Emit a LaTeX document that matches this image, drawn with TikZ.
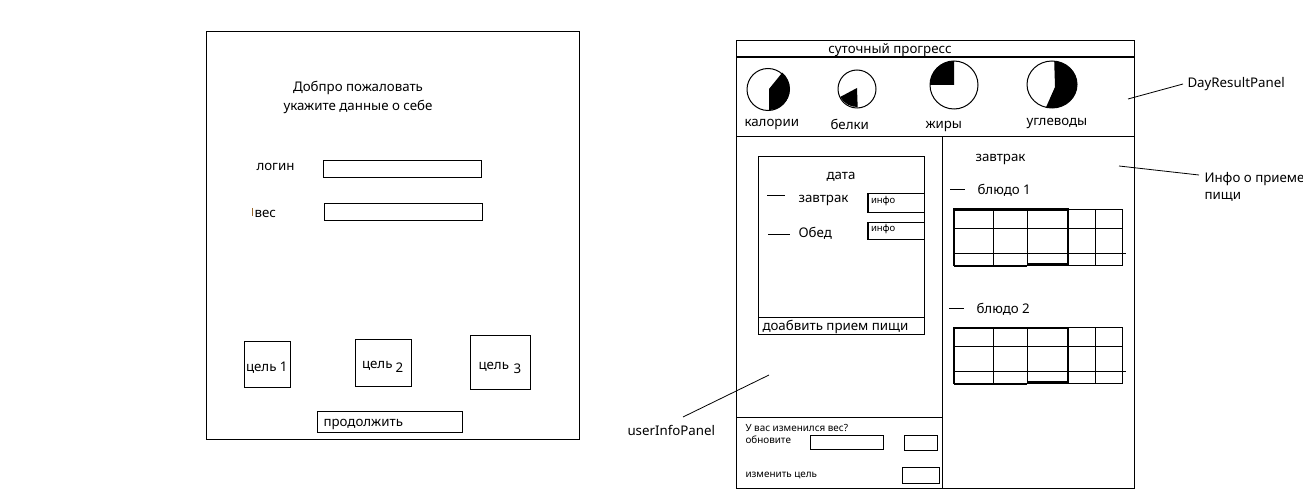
\documentclass[tikz,border=0pt]{standalone}
\usepackage{fontspec}
\setmainfont{Noto Sans}
\definecolor{cursorcol}{RGB}{150,100,40}
\begin{document}
\begin{tikzpicture}[x=1pt,y=-1pt,line width=1pt,
  lbl/.style={anchor=base west,inner sep=0pt,font=\fontsize{13.3}{15}\selectfont},
  ctr/.style={anchor=base,inner sep=0pt,font=\fontsize{13.3}{15}\selectfont},
  sml/.style={anchor=base west,inner sep=0pt,font=\fontsize{9.9}{11}\selectfont},
  tiny/.style={anchor=base west,inner sep=0pt,font=\fontsize{9.5}{10}\selectfont},
  thick line/.style={line width=2pt},
  lead/.style={line width=0.8pt}]
\useasboundingbox (0,0) rectangle (1303,497);
% ================= left screen =================
\draw (206,32) rectangle (579,439);
\node[ctr] (w1) at (358,91.5) {Добпро пожаловать};
\node[ctr] (w2) at (358,110.5) {укажите данные о себе};
\node[lbl] (login) at (256,170.5) {логин};
\draw (323,161) rectangle (481,178);
\draw[cursorcol] (252.5,208) -- (252.5,216);
\node[lbl] (ves) at (254,218) {вес};
\draw (324,204) rectangle (482,220);
\draw (244,341) rectangle (290,387);
\node[lbl] (g1) at (245.5,371.5) {цель 1};
\draw (355,339) rectangle (411,386);
\node[lbl] (g2) at (361.5,368) {цель};
\node[lbl] (g2n) at (395,372) {2};
\draw (470,335) rectangle (530,389);
\node[lbl] (g3) at (478,369) {цель};
\node[lbl] (g3n) at (513,373) {3};
\draw (317,411) rectangle (462,432);
\node[lbl] (cont) at (323,426.5) {продолжить};
% ================= right screen =================
\draw (736,41) rectangle (1134,488);
\draw[thick line] (736,57.5) -- (1134,57.5);
\node[ctr] (hdr) at (890,53.5) {суточный прогресс};
\draw (736,137) -- (1134,137);
\draw (942,137) -- (942,488);
\draw (736,417) -- (942,417);
% pies
\fill (769,89) -- ++(-90:21pt) arc[start angle=-90,end angle=51,radius=21pt] -- cycle;
\draw (768,89.5) circle[radius=21pt];
\node[lbl] (cal) at (744,126.5) {калории};
\fill (857,88) -- ++(208:19pt) arc[start angle=208,end angle=272,radius=19pt] -- cycle;
\draw (857,89) circle[radius=19pt];
\node[lbl] (prot) at (830,129.5) {белки};
\fill (954,85) -- ++(90:24pt) arc[start angle=90,end angle=180,radius=24pt] -- cycle;
\draw (954,85) circle[radius=24pt];
\node[lbl] (fat) at (925,128.5) {жиры};
\fill (1054.2,61.1) -- (1055,87) -- (1046,107.3)
   arc[start angle=-104,end angle=85,x radius=25pt,y radius=23.5pt] -- cycle;
\draw (1052,84.5) ellipse[x radius=25pt,y radius=23.5pt];
\node[lbl] (carb) at (1026,125.5) {углеводы};
% day list
\draw (758,157) rectangle (924,334);
\draw (758,317) -- (924,317);
\node[ctr] (date) at (841,180) {дата};
\coordinate (d1a) at (767,196);
\coordinate (d1b) at (785,196);
\draw (d1a) -- (d1b);
\node[lbl] (br) at (798,202.5) {завтрак};
\draw (867,194) rectangle (924,212);
\draw[thick line] (867.5,194) -- (867.5,212);
\node[tiny] (i1) at (870.5,204) {инфо};
\coordinate (d2a) at (768,234);
\coordinate (d2b) at (790,234);
\draw (d2a) -- (d2b);
\node[lbl] (ob) at (798,237) {Обед};
\draw (867,222) rectangle (924,239);
\draw[thick line] (867.5,222) -- (867.5,239);
\node[tiny] (i2) at (870.5,231.5) {инфо};
\node[lbl] (add) at (762,330) {доабвить прием пищи};
% weight update
\node[sml] (q) at (745,431) {У вас изменился вес?};
\node[sml] (upd) at (745,443.5) {обновите};
\draw (810,435) rectangle (883,449);
\draw (904,435) rectangle (937,450);
\node[sml] (cg) at (745,477.5) {изменить цель};
\draw (902,467) rectangle (939,483);
% meal info
\node[lbl] (mb) at (975,161.5) {завтрак};
\coordinate (m1a) at (950,190);
\coordinate (m1b) at (965,190);
\draw (m1a) -- (m1b);
\node[lbl] (dish1) at (977,194) {блюдо 1};
\coordinate (m2a) at (949,308);
\coordinate (m2b) at (964,308);
\draw (m2a) -- (m2b);
\node[lbl] (dish2) at (976,313) {блюдо 2};
\foreach \dy in {0,118}{
 \begin{scope}[shift={(0,\dy)}]
  \draw (954,209.5) rectangle (1122,265.5);
  \draw (954,228) -- (1122,228);
  \draw (954,253) -- (1126,253);
  \foreach \xx in {993,1027,1095} \draw (\xx,209.5) -- (\xx,265.5);
  \draw[thick line] (954,265.5) -- (954,209.5) -- (1068,209.5) -- (1068,265.5);
  \draw[thick line] (954,265.5) -- (1027,265.5);
  \draw[thick line] (1027,264) -- (1068,264);
 \end{scope}}
% annotations
\node[lbl] (drp) at (1187,87.5) {DayResultPanel};
\coordinate (drpA) at (1128,99);
\coordinate (drpB) at (1183,84);
\draw[lead] (drpA) -- (drpB);
\node[lbl] (meal1) at (1204,182.5) {Инфо о приеме};
\node[lbl] (meal2) at (1204,200) {пищи};
\coordinate (mealA) at (1119,166);
\coordinate (mealB) at (1199,175);
\draw[lead] (mealA) -- (mealB);
\node[lbl] (uip) at (627,435) {userInfoPanel};
\coordinate (uipA) at (683,417);
\coordinate (uipB) at (769,375);
\draw[lead] (uipA) -- (uipB);
\end{tikzpicture}
\end{document}
